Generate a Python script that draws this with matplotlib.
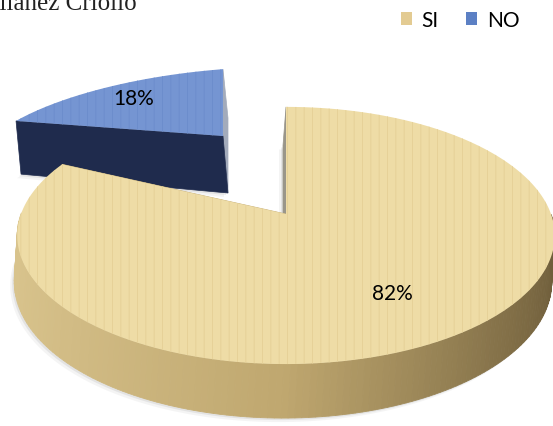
import numpy as np
import matplotlib

matplotlib.use("Agg")
import matplotlib.pyplot as plt
from matplotlib.colors import LinearSegmentedColormap
from matplotlib.patches import Patch, Polygon


# Chart data
categories = ["SI", "NO"]
values = [82, 18]
percent_labels = ["82%", "18%"]
title_fragment = "Vilanez Criollo"

W, H = 553, 427

# Look of each slice (pixel layout of the fake 3D projection)
STYLE = {
    "SI": dict(cx=286, cy=215, rx=265, ry=125, k=0.167, shear=0.0, thick=45,
               wall_dx=-3, label_f=0.68, top="#EEDCA6", grain="#E6D198",
               wall=["#D9C48D", "#BFA76F", "#6F5E3B"],
               face_hi="#9A968A", face_lo="#C9B27A", legend="#E3CB92"),
    "NO": dict(cx=223, cy=137, rx=245, ry=78, k=0.167, shear=0.077, thick=57,
               wall_dx=5, label_f=0.75, top="#7595D2", grain="#6C8DCC",
               wall=["#2A3A63", "#22305A", "#1C2748"],
               face_hi="#1F2B4D", face_lo="#A3ABBB", legend="#5C80C4"),
}


def project(p, u, v, z):
    """Map unit-disc coords (u, v) at depth z (0 top, 1 bottom) to pixels."""
    s = 1.0 / (1.0 + p["k"] * v)
    x = p["cx"] + p["rx"] * u * s + p["wall_dx"] * z
    y = p["cy"] - p["ry"] * v * s - p["shear"] * p["rx"] * u * s + p["thick"] * z * s
    return x, y


def draw_slice(ax, p, lo, hi, label):
    th = np.radians(np.linspace(lo, hi, 240))
    u, v = np.cos(th), np.sin(th)
    apex_top = project(p, 0.0, 0.0, 0.0)
    apex_bot = project(p, 0.0, 0.0, 1.0)

    # soft shadow under the slice
    bx, by = project(p, u, v, 1.0)
    for off, a in ((4, 0.10), (2, 0.18)):
        pts = np.column_stack([np.r_[apex_bot[0], bx] - off, np.r_[apex_bot[1], by] + off])
        ax.add_patch(Polygon(pts, closed=True, facecolor="#9a9a9a", alpha=a,
                             edgecolor="none", zorder=1))

    # cut faces, far one first
    faces = []
    for ang, col in ((hi, p["face_hi"]), (lo, p["face_lo"])):
        a = np.radians(ang)
        et = project(p, np.cos(a), np.sin(a), 0.0)
        eb = project(p, np.cos(a), np.sin(a), 1.0)
        faces.append((np.sin(a), [apex_top, et, eb, apex_bot], col))
    faces.sort(key=lambda f: -f[0])
    for _, pts, col in faces:
        ax.add_patch(Polygon(pts, closed=True, facecolor=col, edgecolor=col,
                             lw=0.5, zorder=2))

    # outer wall, shaded from left (light) to right (dark)
    cmap = LinearSegmentedColormap.from_list("wall", p["wall"])
    tx, ty = project(p, u, v, 0.0)
    for i in range(len(th) - 1):
        mid = 0.5 * (th[i] + th[i + 1])
        if np.sin(mid) >= 0:
            continue
        col = cmap((np.cos(mid) + 1) / 2)
        quad = [(tx[i], ty[i]), (tx[i + 1], ty[i + 1]),
                (bx[i + 1], by[i + 1]), (bx[i], by[i])]
        ax.add_patch(Polygon(quad, closed=True, facecolor=col, edgecolor=col,
                             lw=0.6, zorder=3))

    # top surface with a light grain
    pts = np.column_stack([np.r_[apex_top[0], tx], np.r_[apex_top[1], ty]])
    ax.add_patch(Polygon(pts, closed=True, facecolor=p["top"], edgecolor="none",
                         zorder=4))
    ax.add_patch(Polygon(pts, closed=True, facecolor="none", edgecolor=p["grain"],
                         hatch="||", lw=0, zorder=5))

    # percentage label along the bisector
    b = np.radians(0.5 * (lo + hi))
    lx, ly = project(p, np.cos(b) * p["label_f"], np.sin(b) * p["label_f"], 0.0)
    ax.text(lx, ly, label, ha="center", va="center", fontsize=15,
            family="Lato", color="black", zorder=6)


def main() -> None:
    plt.rcParams["hatch.linewidth"] = 0.7
    fig = plt.figure(figsize=(W / 100, H / 100), dpi=100)
    ax = fig.add_axes([0, 0, 1, 1])
    ax.set_xlim(0, W)
    ax.set_ylim(H, 0)
    ax.axis("off")

    fractions = np.array(values, dtype=float) / sum(values)
    hi = 90.0
    spans = []
    for cat, frac in zip(categories, fractions):
        lo = hi - 360.0 * frac
        spans.append((cat, lo, hi))
        hi = lo

    # the exploded slice sits behind, so draw it first
    for cat, lo, hi in reversed(spans):
        draw_slice(ax, STYLE[cat], lo, hi, percent_labels[categories.index(cat)])

    handles = [Patch(facecolor=STYLE[c]["legend"], edgecolor="none", label=c)
               for c in categories]
    fig.legend(handles=handles, loc="center", bbox_to_anchor=(0.832, 0.951),
               ncol=2, frameon=False, handlelength=0.55,
               handleheight=0.55, handletextpad=0.45, columnspacing=1.3,
               prop={"family": "Lato", "size": 15})

    ax.text(137, 10.5, title_fragment, ha="right", va="baseline",
            family="Liberation Serif", fontsize=18, color="#222222")

    fig.savefig("out.png", dpi=100)
    plt.close(fig)


if __name__ == "__main__":
    main()
